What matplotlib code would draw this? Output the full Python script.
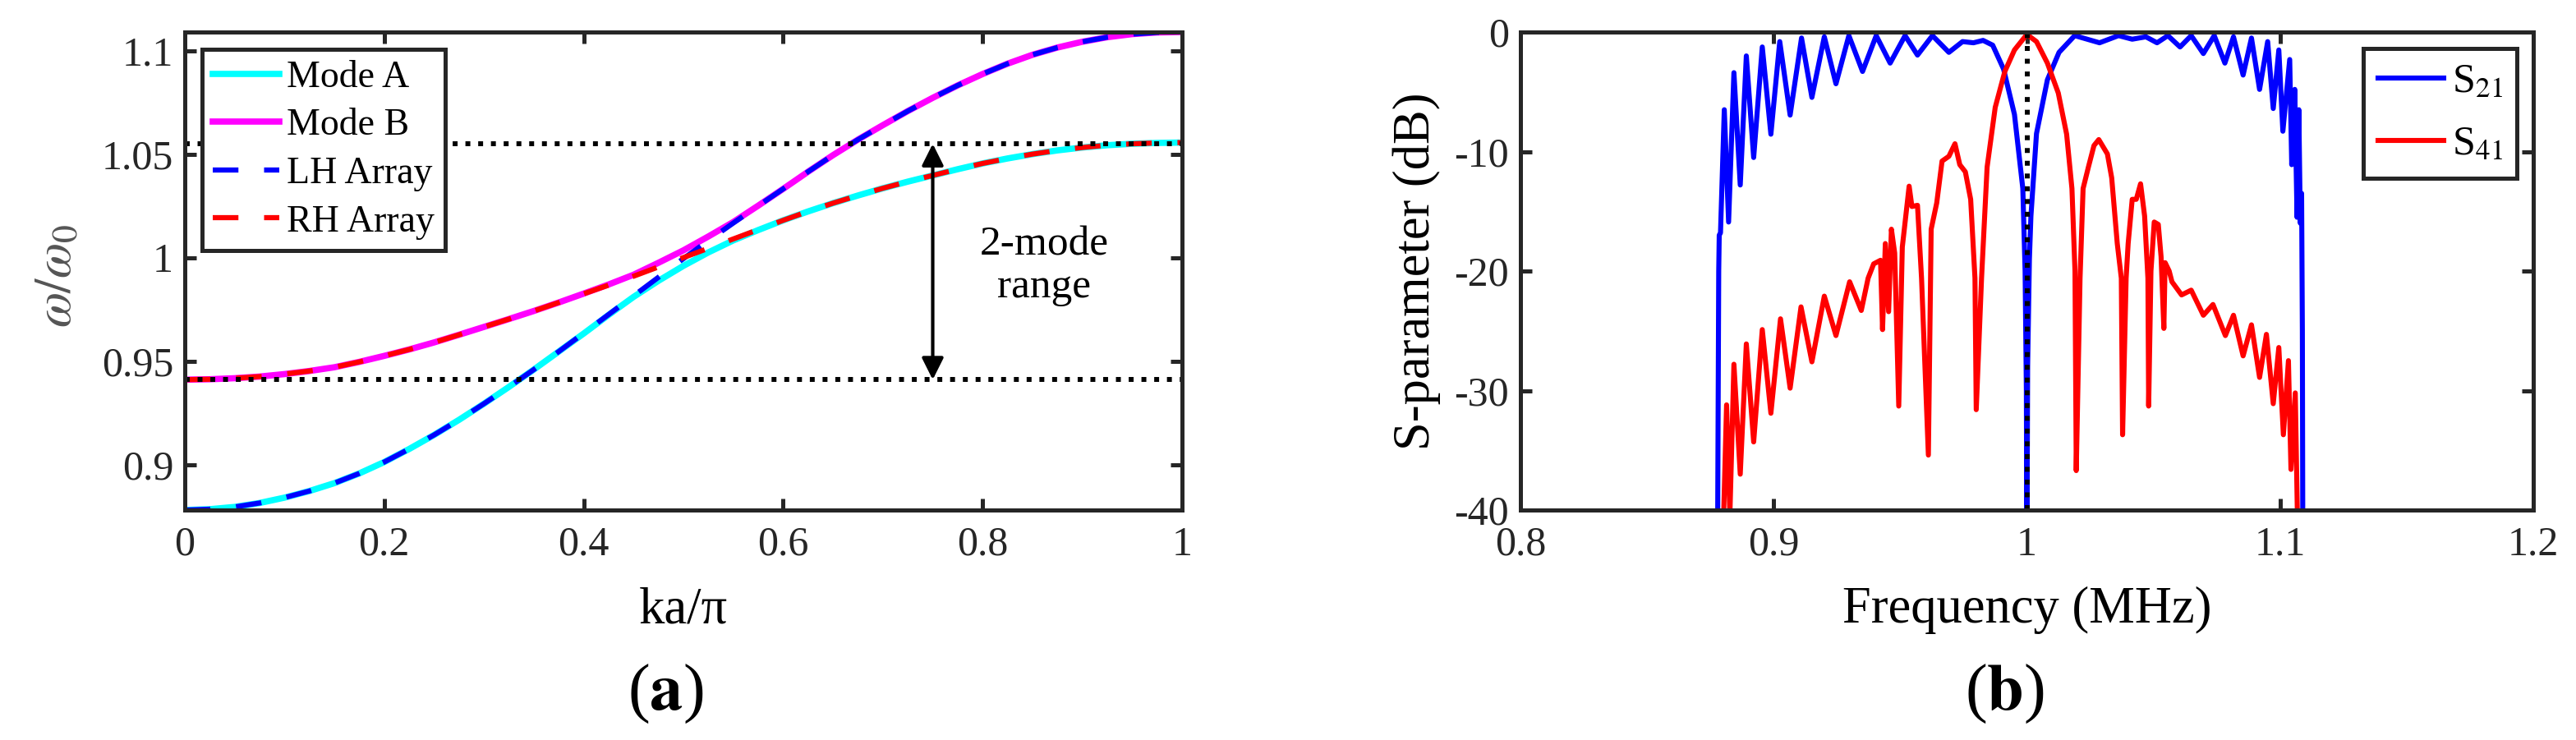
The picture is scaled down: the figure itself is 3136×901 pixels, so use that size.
import numpy as np
import matplotlib
matplotlib.use("Agg")
import matplotlib.pyplot as plt

plt.rcParams['font.family'] = ['Liberation Serif', 'DejaVu Serif']
plt.rcParams['mathtext.fontset'] = 'stix'

# ---- (a) dispersion, values ----
ka = [0, 0.025, 0.05, 0.075, 0.1, 0.125, 0.15, 0.175, 0.2, 0.225,
      0.25, 0.275, 0.3, 0.325, 0.35, 0.375, 0.4, 0.425, 0.45, 0.475,
      0.5, 0.525, 0.55, 0.575, 0.6, 0.625, 0.65, 0.675, 0.7, 0.725,
      0.75, 0.775, 0.8, 0.825, 0.85, 0.875, 0.9, 0.925, 0.95, 0.975, 1]
lh_arr = [0.878, 0.8784, 0.8795, 0.8814, 0.884, 0.8872, 0.891, 0.8957, 0.9012, 0.9075,
          0.9143, 0.9216, 0.9294, 0.9375, 0.9459, 0.9546, 0.9635, 0.9725, 0.9815, 0.9905,
          0.9995, 1.0082, 1.0167, 1.0250, 1.0332, 1.0415, 1.0495, 1.0570, 1.0640, 1.0708,
          1.0772, 1.0832, 1.0887, 1.0937, 1.0980, 1.1015, 1.1043, 1.1065, 1.108, 1.1088, 1.109]
rh_arr = [0.941, 0.9412, 0.9417, 0.9425, 0.9437, 0.9452, 0.947, 0.9496, 0.9525, 0.9556,
          0.959, 0.9627, 0.9665, 0.9703, 0.9742, 0.9783, 0.9825, 0.9867, 0.991, 0.9955,
          1.000, 1.0045, 1.009, 1.0135, 1.018, 1.0223, 1.0263, 1.0300, 1.0335, 1.0367,
          1.0397, 1.0427, 1.0455, 1.0479, 1.050, 1.0518, 1.0532, 1.0543, 1.055, 1.0554, 1.0556]
mode_a = [0.878, 0.8784, 0.8795, 0.8814, 0.884, 0.8872, 0.891, 0.8957, 0.9012, 0.9075,
          0.9143, 0.9216, 0.9294, 0.9375, 0.9459, 0.9546, 0.9633, 0.9723, 0.981, 0.9888,
          0.996, 1.0025, 1.0083, 1.0133, 1.018, 1.0223, 1.0263, 1.0300, 1.0335, 1.0367,
          1.0397, 1.0427, 1.0455, 1.0479, 1.050, 1.0518, 1.0532, 1.0543, 1.055, 1.0554, 1.0556]
mode_b = [0.941, 0.9412, 0.9417, 0.9425, 0.9437, 0.9452, 0.947, 0.9496, 0.9525, 0.9556,
          0.959, 0.9627, 0.9665, 0.9703, 0.9742, 0.9783, 0.9826, 0.987, 0.9917, 0.9975,
          1.0035, 1.0102, 1.0172, 1.0251, 1.0332, 1.0415, 1.0495, 1.0570, 1.0640, 1.0708,
          1.0772, 1.0832, 1.0887, 1.0937, 1.0980, 1.1015, 1.1043, 1.1065, 1.108, 1.1088, 1.109]
band_lo, band_hi = 0.941, 1.055
arrow_x = 0.75
xt_a = [0, 0.2, 0.4, 0.6, 0.8, 1]
xt_a_lab = ['0', '0.2', '0.4', '0.6', '0.8', '1']
yt_a = [0.9, 0.95, 1, 1.05, 1.1]
yt_a_lab = ['0.9', '0.95', '1', '1.05', '1.1']

# ---- (b) S-parameters ----
f21 = [0.8778, 0.8783, 0.8785, 0.8790, 0.8805, 0.8822, 0.8843, 0.8868, 0.8892, 0.8921,
       0.8955, 0.8989, 0.9024, 0.9065, 0.9110, 0.9151, 0.9200, 0.9246, 0.9297, 0.9351,
       0.9405, 0.9460, 0.9519, 0.9568, 0.9627, 0.9692, 0.9746, 0.9789, 0.9827, 0.9865,
       0.9908, 0.9951, 0.9984, 0.9993, 0.9998, 1.0000, 1.0003, 1.0010, 1.0016, 1.0038,
       1.0081, 1.0127, 1.0189, 1.0287, 1.0362, 1.0416, 1.0470, 1.0514, 1.0557, 1.0605,
       1.0649, 1.0697, 1.0740, 1.0782, 1.0816, 1.0854, 1.0887, 1.0919, 1.0951, 1.0973,
       1.0995, 1.1011, 1.1038, 1.1046, 1.1058, 1.1067, 1.1074, 1.1080, 1.1085, 1.1088,
       1.1090]
s21 = [-45, -20, -17.0, -16.8, -6.5, -15.9, -3.4, -12.8, -2.0, -10.5,
       -1.25, -8.55, -0.8, -6.95, -0.5, -5.47, -0.4, -4.33, -0.3, -3.3,
       -0.3, -2.6, -0.3, -1.93, -0.3, -1.7, -0.8, -0.9, -0.7, -1.1,
       -3.1, -6.9, -13.1, -20, -30, -45, -28, -19, -15.4, -8.5,
       -4.0, -1.7, -0.3, -0.9, -0.3, -0.6, -0.4, -0.9, -0.3, -1.25,
       -0.3, -1.8, -0.3, -2.6, -0.4, -3.6, -0.5, -4.8, -0.8, -6.4,
       -1.5, -8.3, -2.3, -11.1, -4.8, -15.5, -6.5, -16, -13.5, -25,
       -45]
f41 = [0.8800, 0.8803, 0.8814, 0.8827, 0.8843, 0.8868, 0.8892, 0.8921, 0.8955, 0.8989,
       0.9027, 0.9065, 0.9108, 0.9151, 0.9200, 0.9246, 0.9300, 0.9346, 0.9373, 0.9395,
       0.9422, 0.9430, 0.9441, 0.9454, 0.9465, 0.9478, 0.9494, 0.9508, 0.9535, 0.9546,
       0.9568, 0.9584, 0.9611, 0.9622, 0.9644, 0.9665, 0.9692, 0.9716, 0.9735, 0.9757,
       0.9778, 0.9795, 0.9800, 0.9821, 0.9843, 0.9875, 0.9913, 0.9951, 1.0000, 1.0038,
       1.0081, 1.0124, 1.0157, 1.0178, 1.0190, 1.0195, 1.0210, 1.0222, 1.0243, 1.0265,
       1.0284, 1.0318, 1.0335, 1.0357, 1.0373, 1.0378, 1.0392, 1.0400, 1.0416, 1.0432,
       1.0449, 1.0465, 1.0478, 1.0481, 1.0490, 1.0503, 1.0519, 1.0530, 1.0541, 1.0546,
       1.0562, 1.0573, 1.0611, 1.0649, 1.0697, 1.0735, 1.0784, 1.0816, 1.0854, 1.0887,
       1.0919, 1.0946, 1.0973, 1.0995, 1.1013, 1.1033, 1.1043, 1.1060, 1.1068, 1.1072]
s41 = [-45, -40, -31.2, -40.5, -27.8, -37.0, -26.1, -34.3, -24.9, -31.9,
       -24.0, -29.8, -23.0, -27.6, -22.1, -25.4, -20.9, -23.3, -20.6, -19.4,
       -19.1, -24.9, -17.7, -23.4, -16.5, -18.5, -31.3, -18.0, -12.9, -14.6,
       -14.5, -20.6, -35.4, -16.5, -14.3, -10.8, -10.4, -9.35, -11.1, -11.7,
       -14.0, -20.6, -31.6, -20.6, -11.3, -6.3, -3.3, -1.5, -0.2, -0.8,
       -2.6, -5.1, -8.55, -13.1, -20, -36.7, -20.6, -13.1, -11.3, -9.5,
       -9.0, -10.2, -12.2, -17.7, -20.6, -33.7, -20.6, -17.7, -14.0, -14.0,
       -12.7, -15.4, -20.6, -31.3, -20, -15.9, -16.1, -18.8, -24.8, -19.3,
       -20.0, -20.9, -22.0, -21.6, -23.7, -22.8, -25.4, -23.7, -27.1, -24.5,
       -28.9, -25.3, -31.1, -26.4, -33.7, -27.5, -36.6, -30.2, -40, -45]
f_center = 1.0
xt_b = [0.8, 0.9, 1.0, 1.1, 1.2]
xt_b_lab = ['0.8', '0.9', '1', '1.1', '1.2']
yt_b = [-40, -30, -20, -10, 0]
yt_b_lab = ['-40', '-30', '-20', '-10', '0']

axcol = '#262626'
W, H = 3136, 901
fig = plt.figure(figsize=(W / 100, H / 100), dpi=100)
ax1 = fig.add_axes([225 / W, 1 - 621 / H, (1439 - 225) / W, (621 - 39) / H])
ax2 = fig.add_axes([1851 / W, 1 - 621 / H, (3084 - 1851) / W, (621 - 39) / H])


def style(ax):
    for s in ax.spines.values():
        s.set_linewidth(3.6)
        s.set_color(axcol)
    ax.tick_params(direction='in', length=10, width=3.6, color=axcol,
                   labelsize=36, labelcolor=axcol, top=True, right=True)
    ax.tick_params(axis='x', pad=14)
    ax.tick_params(axis='y', pad=10)


# (a)
ax1.plot(ka, mode_a, color='cyan', lw=5.5, label='Mode A')
ax1.plot(ka, mode_b, color='magenta', lw=5.5, label='Mode B')
ax1.plot(ka, lh_arr, color='blue', lw=4.5, ls=(0, (5, 5)), label='LH Array')
ax1.plot(ka, rh_arr, color='red', lw=4.5, ls=(0, (5, 5)), label='RH Array')
ax1.axhline(band_hi, color='black', lw=4.3, ls=(0, (1, 1.6)))
ax1.axhline(band_lo, color='black', lw=4.3, ls=(0, (1, 1.6)))
ax1.annotate('', xy=(arrow_x, band_lo), xytext=(arrow_x, band_hi),
             arrowprops=dict(arrowstyle='<|-|>', color='black', lw=3,
                             mutation_scale=40, shrinkA=0, shrinkB=0))
ax1.text(0.862, 0.996, '2-mode\nrange', ha='center', va='center',
         fontsize=37, linespacing=1.15)
ax1.set_xlim(0, 1)
ax1.set_ylim(0.878, 1.109)
ax1.set_xticks(xt_a)
ax1.set_xticklabels(xt_a_lab)
ax1.set_yticks(yt_a)
ax1.set_yticklabels(yt_a_lab)
style(ax1)
ax1.set_xlabel('ka/π', fontsize=45)
ax1.xaxis.set_label_coords(0.5, -0.21)
ax1.xaxis.label.set_va('center')
ax1.set_ylabel(r'$\omega/\omega_0$', fontsize=45, color='#555555')
ax1.yaxis.set_label_coords(-0.127, 0.49)
ax1.yaxis.label.set_va('center')
leg1 = ax1.legend(loc='upper left', fontsize=33, handlelength=1.75,
                  handletextpad=0.2, labelspacing=0.35, borderpad=0.3,
                  borderaxespad=0.45, fancybox=False, framealpha=1)
leg1.get_frame().set_edgecolor(axcol)
leg1.get_frame().set_linewidth(3.6)

# (b)
ax2.plot(f21, s21, color='blue', lw=4.4, label=r'S$_{\mathrm{21}}$')
ax2.plot(f41, s41, color='red', lw=4.4, label=r'S$_{\mathrm{41}}$')
ax2.axvline(f_center, color='black', lw=4.3, ls=(0, (1, 1.6)))
ax2.set_xlim(0.8, 1.2)
ax2.set_ylim(-40, 0)
ax2.set_xticks(xt_b)
ax2.set_xticklabels(xt_b_lab)
ax2.set_yticks(yt_b)
ax2.set_yticklabels(yt_b_lab)
style(ax2)
ax2.set_xlabel('Frequency (MHz)', fontsize=45)
ax2.xaxis.set_label_coords(0.5, -0.21)
ax2.xaxis.label.set_va('center')
ax2.set_ylabel('S-parameter (dB)', fontsize=45)
ax2.yaxis.set_label_coords(-0.102, 0.5)
ax2.yaxis.label.set_va('center')
leg2 = ax2.legend(loc='upper right', fontsize=36, handlelength=1.6,
                  handletextpad=0.2, labelspacing=0.6, borderpad=0.35,
                  borderaxespad=0.4, fancybox=False, framealpha=1)
leg2.get_frame().set_edgecolor(axcol)
leg2.get_frame().set_linewidth(3.6)

fig.text(810 / W, 1 - 845 / H, r'($\mathbf{a}$)', ha='center', va='center', fontsize=58)
fig.text(2440 / W, 1 - 845 / H, r'($\mathbf{b}$)', ha='center', va='center', fontsize=58)

fig.savefig('out.png', dpi=100, facecolor='white')
